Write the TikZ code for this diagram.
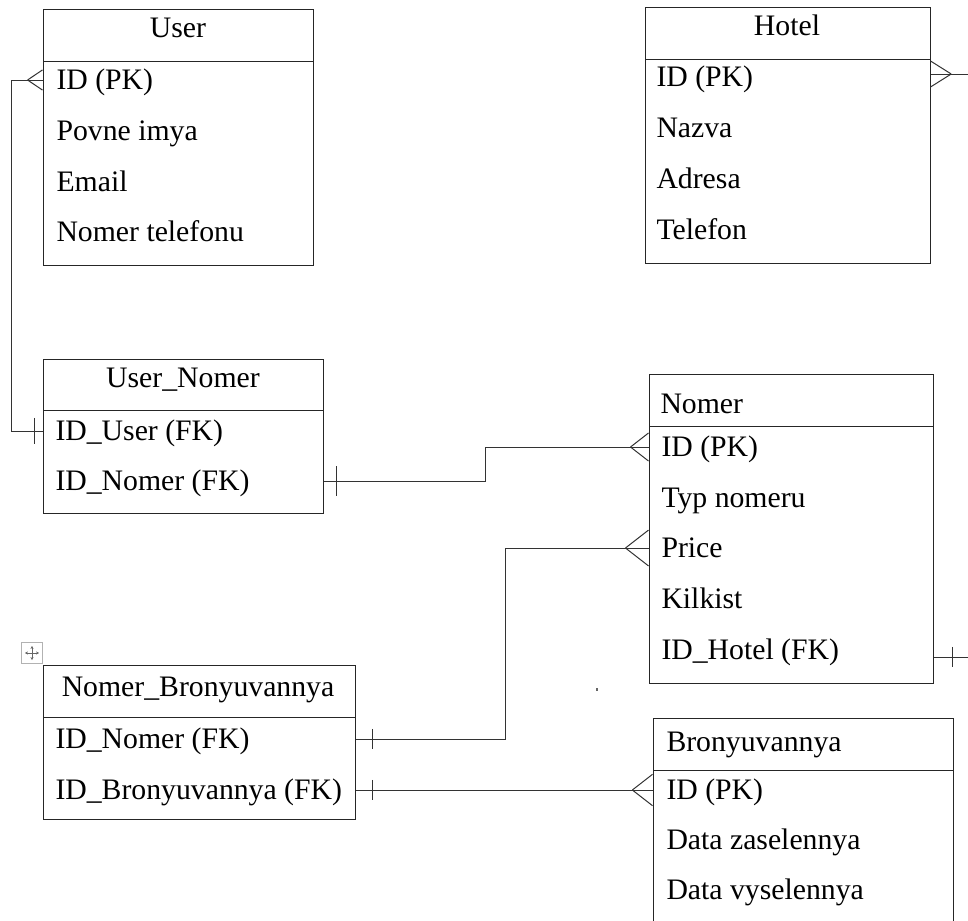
\documentclass[tikz,border=0pt]{standalone}
\usepackage{fontspec}
\setmainfont{Liberation Serif}
\usetikzlibrary{fit,calc,arrows.meta}

\begin{document}
\begin{tikzpicture}[x=0.75pt,y=-0.75pt,line width=0.75pt,
			font=\fontsize{22.3pt}{26pt}\selectfont,
			tbl/.style={draw=black!85,inner sep=0pt},
			fld/.style={anchor=west,inner sep=0pt,text height=14.6pt,text depth=0pt},
			ttl/.style={anchor=base,inner sep=0pt},
			ttlw/.style={anchor=base west,inner sep=0pt},
			link/.style={draw=black!80},
			crowfoot/.pic={\draw[black!80] (-18,0) -- (0,-14) (-18,0) -- (0,14);},
			onebar/.pic={\draw[black!80] (0,-12) -- (0,12);}]
			\useasboundingbox (0,0) rectangle (968,921);
			\clip (0,0) rectangle (968,921);

			% User
			\node[tbl,fit={(43,9) (313,265)}] (user) {};
			\draw[tbl] (43,61) -- (313,61);
			\node[ttl]  (user-t)     at (178,37)  {User};
			\node[fld]  (user-id)    at (56,80)   {ID (PK)};
			\node[fld]  (user-name)  at (56,131)  {Povne imya};
			\node[fld]  (user-mail)  at (56,182)  {Email};
			\node[fld]  (user-tel)   at (56,232)  {Nomer telefonu};

			% Hotel
			\node[tbl,fit={(645,7) (930,263)}] (hotel) {};
			\draw[tbl] (645,59) -- (930,59);
			\node[ttl]  (hotel-t)    at (787,35)  {Hotel};
			\node[fld]  (hotel-id)   at (656,77)  {ID (PK)};
			\node[fld]  (hotel-name) at (656,128) {Nazva};
			\node[fld]  (hotel-adr)  at (656,179) {Adresa};
			\node[fld]  (hotel-tel)  at (656,230) {Telefon};

			% User_Nomer
			\node[tbl,fit={(43,359) (323,513)}] (un) {};
			\draw[tbl] (43,410) -- (323,410);
			\node[ttl]  (un-t)       at (183,387) {User\_Nomer};
			\node[fld]  (un-user)    at (55,431)  {ID\_User (FK)};
			\node[fld]  (un-nomer)   at (55,481)  {ID\_Nomer (FK)};

			% Nomer
			\node[tbl,fit={(649,374) (933,683)}] (nomer) {};
			\draw[tbl] (649,426) -- (933,426);
			\node[ttlw] (nomer-t)     at (660,413) {Nomer};
			\node[fld]  (nomer-id)    at (661,447) {ID (PK)};
			\node[fld]  (nomer-typ)   at (661,498) {Typ nomeru};
			\node[fld]  (nomer-price) at (661,548) {Price};
			\node[fld]  (nomer-kil)   at (661,599) {Kilkist};
			\node[fld]  (nomer-hotel) at (661,650) {ID\_Hotel (FK)};

			% Nomer_Bronyuvannya
			\node[tbl,fit={(43,665) (355,819)}] (nb) {};
			\draw[tbl] (43,717) -- (355,717);
			\node[ttl]  (nb-t)       at (198,696) {Nomer\_Bronyuvannya};
			\node[fld]  (nb-nomer)   at (55,739)  {ID\_Nomer (FK)};
			\node[fld]  (nb-bron)    at (55,790)  {ID\_Bronyuvannya (FK)};

			% Bronyuvannya
			\node[tbl,fit={(653,718) (953,960)}] (bron) {};
			\draw[tbl] (653,770) -- (953,770);
			\node[ttlw] (bron-t)     at (666,751) {Bronyuvannya};
			\node[fld]  (bron-id)    at (666,790) {ID (PK)};
			\node[fld]  (bron-in)    at (666,840) {Data zaselennya};
			\node[fld]  (bron-out)   at (666,890) {Data vyselennya};

			% table handle and stray dot
			\node[draw=black!30,minimum size=15.5pt,inner sep=0pt] (handle) at (32,653) {};
			\draw[black!60,line width=0.5pt,{Stealth[length=2.2pt,width=2.4pt]}-{Stealth[length=2.2pt,width=2.4pt]}]
				($(handle)+(-7,0)$) -- ($(handle)+(7,0)$);
			\draw[black!60,line width=0.5pt,{Stealth[length=2.2pt,width=2.4pt]}-{Stealth[length=2.2pt,width=2.4pt]}]
				($(handle)+(0,-7)$) -- ($(handle)+(0,7)$);
			\fill[black!60] (596,688) rectangle (598,691);

			% connectors
			\coordinate (lane1) at (11,0);
			\coordinate (lane2) at (485,0);
			\coordinate (lane3) at (505,0);
			\coordinate (edge)  at (968,0);

			\draw[link] (user.west |- user-id) -- (lane1 |- user-id) |- (un.west |- un-user);
			\pic[xscale=0.83,yscale=0.72] at (user.west |- user-id) {crowfoot};
			\pic[yscale=1.1] at ($(un.west |- un-user)+(-8,0)$) {onebar};

			\draw[link] (un.east |- un-nomer) -- (lane2 |- un-nomer) |- (nomer.west |- nomer-id);
			\pic[yscale=1.25] at ($(un.east |- un-nomer)+(13,0)$) {onebar};
			\pic at (nomer.west |- nomer-id) {crowfoot};

			\draw[link] (nb.east |- nb-nomer) -- (lane3 |- nb-nomer) |- (nomer.west |- nomer-price);
			\pic[yscale=0.85] at ($(nb.east |- nb-nomer)+(17,0)$) {onebar};
			\pic[scale=1.28] at (nomer.west |- nomer-price) {crowfoot};

			\draw[link] (nb.east |- nb-bron) -- (bron.west |- bron-id);
			\pic[yscale=0.85] at ($(nb.east |- nb-bron)+(17,0)$) {onebar};
			\pic[scale=1.12] at (bron.west |- bron-id) {crowfoot};

			\draw[link] ($(hotel.east |- hotel-id)+(0,-3)$) -- ($(edge |- hotel-id)+(0,-3)$);
			\pic[xscale=-1.15,yscale=0.93] at ($(hotel.east |- hotel-id)+(0,-3)$) {crowfoot};

			\draw[link] ($(nomer.east |- nomer-hotel)+(0,7)$) -- ($(edge |- nomer-hotel)+(0,7)$);
			\pic[yscale=0.85] at ($(nomer.east |- nomer-hotel)+(19,7)$) {onebar};
\end{tikzpicture}
\end{document}
